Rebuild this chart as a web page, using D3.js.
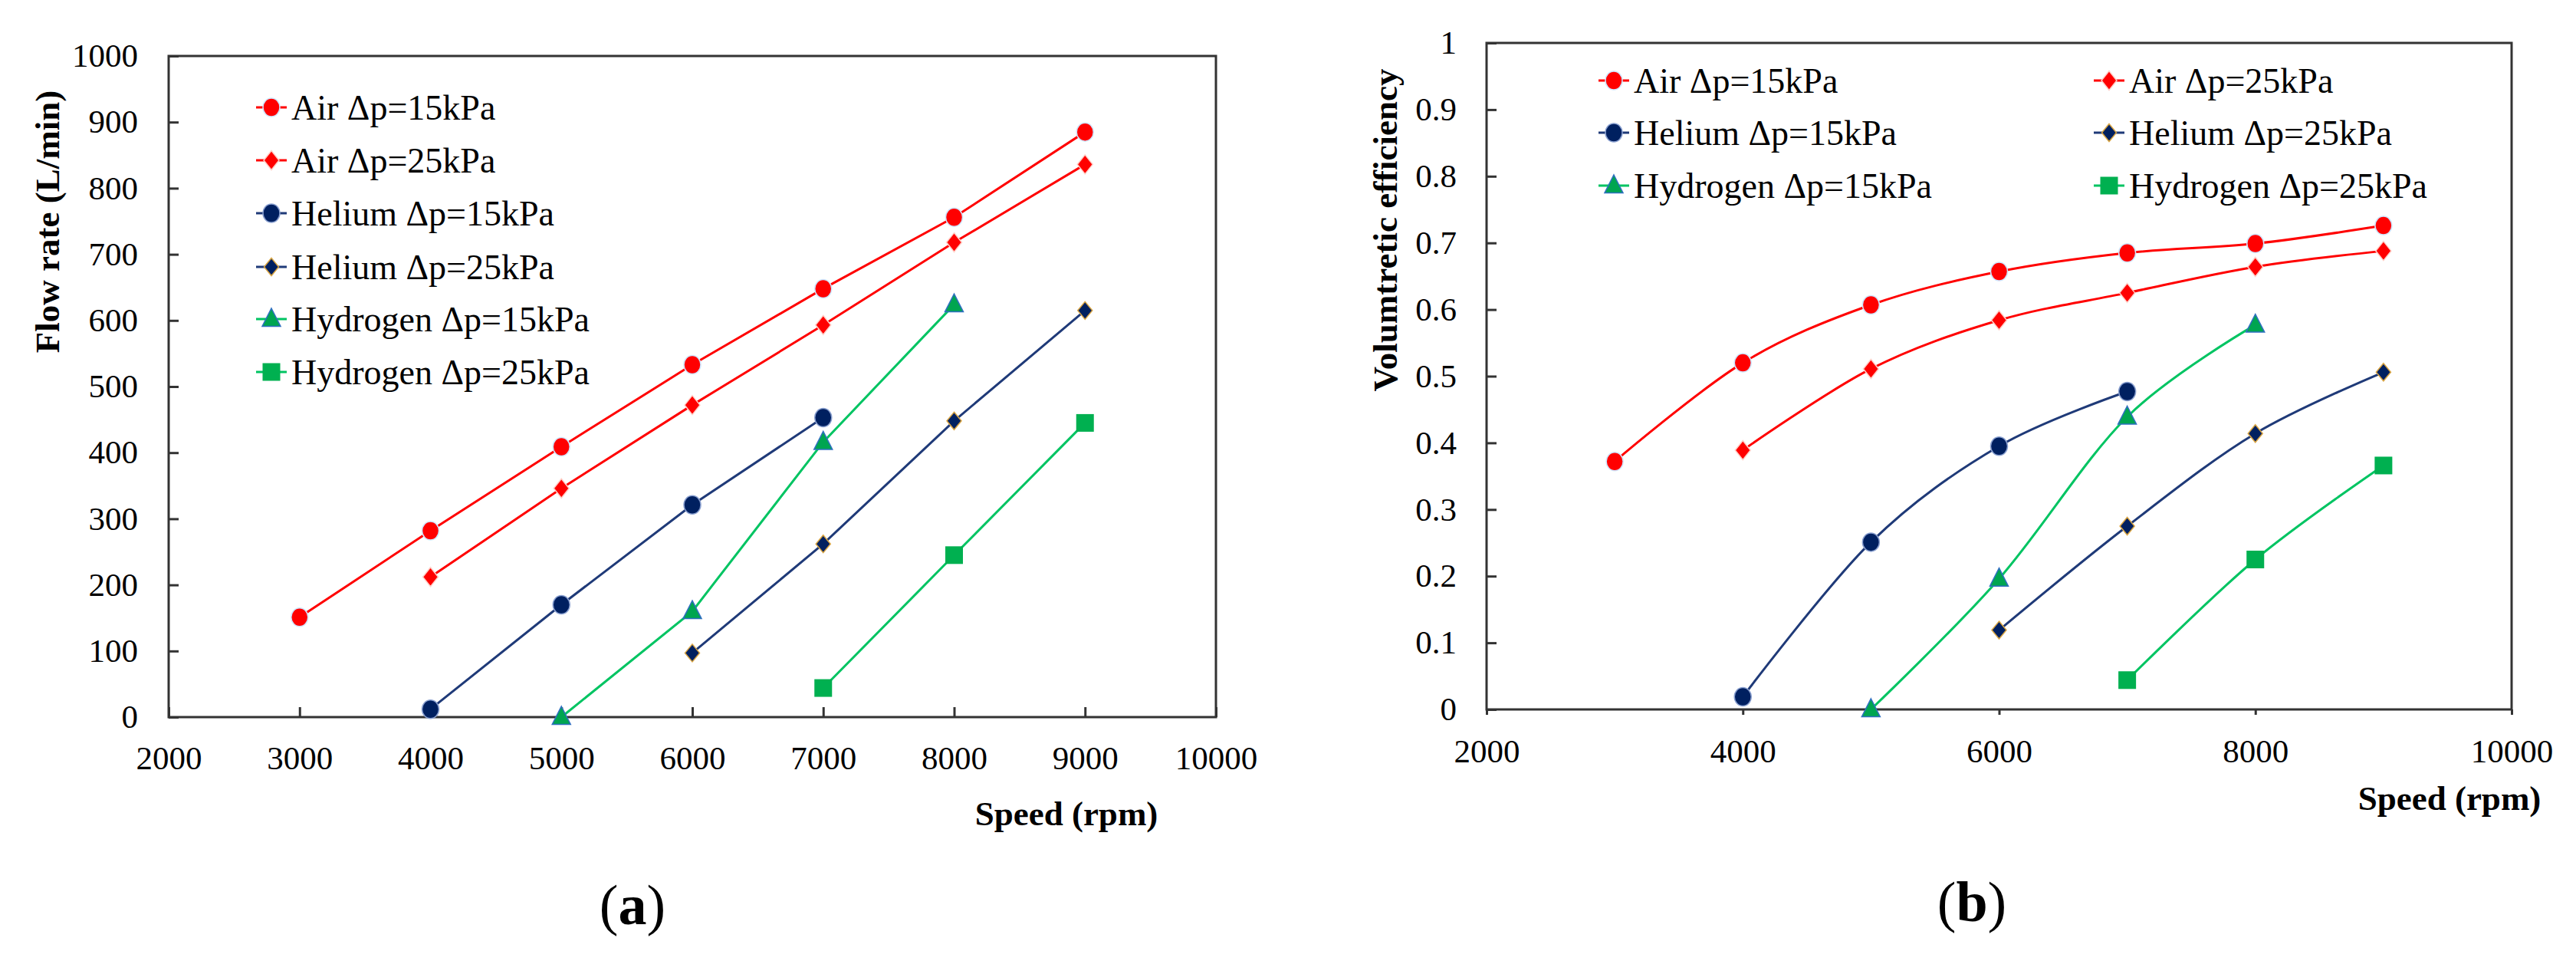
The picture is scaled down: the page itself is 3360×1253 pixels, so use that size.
<!DOCTYPE html>
<html>
<head>
<meta charset="utf-8">
<script src="https://cdn.jsdelivr.net/npm/d3@7/dist/d3.min.js"></script>
<style>
  html, body { margin: 0; padding: 0; background: #fff; }
  svg { display: block; }
  svg text { font-family: 'Liberation Serif', 'Times New Roman', serif; }
</style>
</head>
<body>
<svg id="chart" width="3360" height="1253"></svg>
<script>
// series names (legend order)
const seriesNames = ['Air Δp=15kPa', 'Air Δp=25kPa', 'Helium Δp=15kPa', 'Helium Δp=25kPa', 'Hydrogen Δp=15kPa', 'Hydrogen Δp=25kPa']

// speeds (rpm) per series
const speedAir15 = [3000, 4000, 5000, 6000, 7000, 8000, 9000]
const speedAir25 = [4000, 5000, 6000, 7000, 8000, 9000]
const speedHe15 = [4000, 5000, 6000, 7000]
const speedHe25 = [6000, 7000, 8000, 9000]
const speedH2_15 = [5000, 6000, 7000, 8000]
const speedH2_25 = [7000, 8000, 9000]

// (a) flow rate, L/min
const flowAir15 = [151, 282, 409, 533, 648, 756, 885]
const flowAir25 = [212, 346, 472, 593, 718, 836]
const flowHe15 = [12, 170, 321, 453]
const flowHe25 = [97, 262, 448, 615]
const flowH2_15 = [0, 160, 416, 624]
const flowH2_25 = [44, 245, 445]

// (b) volumetric efficiency
const effAir15 = [0.372, 0.520, 0.607, 0.657, 0.685, 0.699, 0.726]
const effAir25 = [0.389, 0.511, 0.584, 0.625, 0.664, 0.688]
const effHe15 = [0.019, 0.251, 0.395, 0.477]
const effHe25 = [0.119, 0.275, 0.414, 0.506]
const effH2_15 = [0, 0.196, 0.439, 0.577]
const effH2_25 = [0.044, 0.225, 0.366]

// ticks
const speedTicksA = [2000, 3000, 4000, 5000, 6000, 7000, 8000, 9000, 10000]
const flowTicks = [0, 100, 200, 300, 400, 500, 600, 700, 800, 900, 1000]
const speedTicksB = [2000, 4000, 6000, 8000, 10000]
const effTicks = [0, 0.1, 0.2, 0.3, 0.4, 0.5, 0.6, 0.7, 0.8, 0.9, 1]

const speeds = [speedAir15, speedAir25, speedHe15, speedHe25, speedH2_15, speedH2_25]
const flows = [flowAir15, flowAir25, flowHe15, flowHe25, flowH2_15, flowH2_25]
const effs = [effAir15, effAir25, effHe15, effHe25, effH2_15, effH2_25]

// style per series
const lineColors = ['#ff0000', '#ff0000', '#1f3a78', '#1f3a78', '#00c462', '#00c462']
const markerFill = ['#ff0000', '#ff0000', '#002060', '#002060', '#00a550', '#00b050']
const markerStroke = ['#cfe6ff', '#ffd0c8', '#8aa0d0', '#d9a441', '#2f6fc0', '#00b050']
const markerType = ['circle', 'diamond', 'circle', 'smalldiamond', 'triangle', 'square']

var svg = d3.select('#chart')
var serif = "'Liberation Serif', 'Times New Roman', serif"

function drawMarker(g, type, i, x, y) {
  var m
  if (type === 'circle') {
    m = g.append('ellipse').attr('cx', x).attr('cy', y).attr('rx', 11).attr('ry', 12)
  } else if (type === 'diamond') {
    m = g.append('path').attr('d', 'M' + x + ',' + (y - 12.5) + 'L' + (x + 10) + ',' + y + 'L' + x + ',' + (y + 12.5) + 'L' + (x - 10) + ',' + y + 'Z')
  } else if (type === 'smalldiamond') {
    m = g.append('path').attr('d', 'M' + x + ',' + (y - 11.5) + 'L' + (x + 9.5) + ',' + y + 'L' + x + ',' + (y + 11.5) + 'L' + (x - 9.5) + ',' + y + 'Z')
  } else if (type === 'triangle') {
    m = g.append('path').attr('d', 'M' + x + ',' + (y - 14) + 'L' + (x + 12) + ',' + (y + 9.5) + 'L' + (x - 12) + ',' + (y + 9.5) + 'Z')
  } else {
    m = g.append('rect').attr('x', x - 11.5).attr('y', y - 11.5).attr('width', 23).attr('height', 23)
  }
  m.style('fill', markerFill[i])
    .style('stroke', markerStroke[i])
    .style('stroke-width', type === 'square' ? 0 : 1.5)
}

function drawPanel(opts) {
  var xScale = d3.scaleLinear().domain([2000, 10000]).range([opts.left, opts.right])
  var yScale = d3.scaleLinear().domain(opts.yDomain).range([opts.bottom, opts.top])

  var xAxis = d3.axisBottom(xScale)
    .tickValues(opts.xTicks)
    .tickFormat(d3.format('d'))
    .tickSizeInner(opts.xTickSize)
    .tickSizeOuter(0)
    .tickPadding(opts.xPad)
  var yAxis = d3.axisLeft(yScale)
    .tickValues(opts.yTicks)
    .tickFormat(opts.yFormat)
    .tickSizeInner(-13)
    .tickSizeOuter(0)
    .tickPadding(opts.yPad)

  var gx = svg.append('g')
    .attr('transform', 'translate(0,' + opts.bottom + ')')
    .call(xAxis)
  var gy = svg.append('g')
    .attr('transform', 'translate(' + opts.left + ',0)')
    .call(yAxis)

  ;[gx, gy].forEach(function(g) {
    g.attr('font-family', serif).attr('font-size', 43)
    g.select('.domain').remove()
    g.selectAll('line').style('stroke', '#333').style('stroke-width', 3)
    g.selectAll('text')
      .attr('font-family', serif)
      .style('font-size', '43px')
      .style('fill', '#000')
  })

  // frame
  svg.append('rect')
    .attr('x', opts.left)
    .attr('y', opts.top)
    .attr('width', opts.right - opts.left)
    .attr('height', opts.bottom - opts.top)
    .style('fill', 'none')
    .style('stroke', '#333')
    .style('stroke-width', 3)

  // lines + markers
  var line = d3.line()
    .x(function(d) { return xScale(d[0]) })
    .y(function(d) { return yScale(d[1]) })
    .curve(opts.curve)

  opts.values.forEach(function(vals, i) {
    var pts = speeds[i].map(function(s, k) { return [s, vals[k]] })
    svg.append('path')
      .datum(pts)
      .attr('d', line)
      .style('fill', 'none')
      .style('stroke', lineColors[i])
      .style('stroke-width', 3)
  })
  opts.values.forEach(function(vals, i) {
    var g = svg.append('g')
    speeds[i].forEach(function(s, k) {
      drawMarker(g, markerType[i], i, xScale(s), yScale(vals[k]))
    })
  })

  // legend
  opts.legend.forEach(function(pos, i) {
    var g = svg.append('g')
    g.append('line')
      .attr('x1', pos[0] - 20).attr('x2', pos[0] + 20)
      .attr('y1', pos[1]).attr('y2', pos[1])
      .style('stroke', lineColors[i])
      .style('stroke-width', 3)
    drawMarker(g, markerType[i], i, pos[0], pos[1])
    g.append('text')
      .attr('x', pos[0] + 26)
      .attr('y', pos[1])
      .attr('dy', '0.35em')
      .attr('font-family', serif)
      .style('font-size', '46px')
      .style('fill', '#000')
      .text(seriesNames[i])
  })

  // axis titles
  svg.append('text')
    .attr('transform', 'translate(' + opts.yTitle[0] + ',' + opts.yTitle[1] + ') rotate(-90)')
    .attr('dy', '0.35em')
    .attr('font-family', serif)
    .style('text-anchor', 'middle')
    .style('font-weight', 'bold')
    .style('font-size', '45px')
    .text(opts.yLabel)

  svg.append('text')
    .attr('x', opts.xTitle[0])
    .attr('y', opts.xTitle[1])
    .attr('dy', '0.35em')
    .attr('font-family', serif)
    .style('text-anchor', 'middle')
    .style('font-weight', 'bold')
    .style('font-size', '45px')
    .text('Speed (rpm)')

  // panel tag
  var tag = svg.append('text')
    .attr('x', opts.tag[0])
    .attr('y', opts.tag[1])
    .attr('dy', '0.35em')
    .attr('font-family', serif)
    .style('text-anchor', 'middle')
    .style('font-size', '74px')
  tag.append('tspan').text('(')
  tag.append('tspan').style('font-weight', 'bold').text(opts.tagLetter)
  tag.append('tspan').text(')')
}

drawPanel({
  left: 220, right: 1586, top: 73, bottom: 935,
  yDomain: [0, 1000],
  xTicks: speedTicksA, yTicks: flowTicks,
  yFormat: d3.format('d'),
  xTickSize: -13, xPad: 37, yPad: 40,
  values: flows,
  curve: d3.curveLinear,
  legend: [[354, 140], [354, 209], [354, 278], [354, 348], [354, 416], [354, 485]],
  yTitle: [61, 289], yLabel: 'Flow rate (L/min)',
  xTitle: [1391, 1060],
  tag: [825, 1179], tagLetter: 'a'
})

drawPanel({
  left: 1939, right: 3276, top: 56, bottom: 925,
  yDomain: [0, 1],
  xTicks: speedTicksB, yTicks: effTicks,
  yFormat: function(d) { return d3.format('.1~f')(d) },
  xTickSize: 7, xPad: 31, yPad: 39,
  values: effs,
  curve: d3.curveCatmullRom.alpha(0),
  legend: [[2105, 105], [2751, 105], [2105, 173], [2751, 173], [2105, 242], [2751, 242]],
  yTitle: [1806, 300], yLabel: 'Volumtretic efficiency',
  xTitle: [3195, 1040],
  tag: [2572, 1175], tagLetter: 'b'
})
</script>
</body>
</html>
